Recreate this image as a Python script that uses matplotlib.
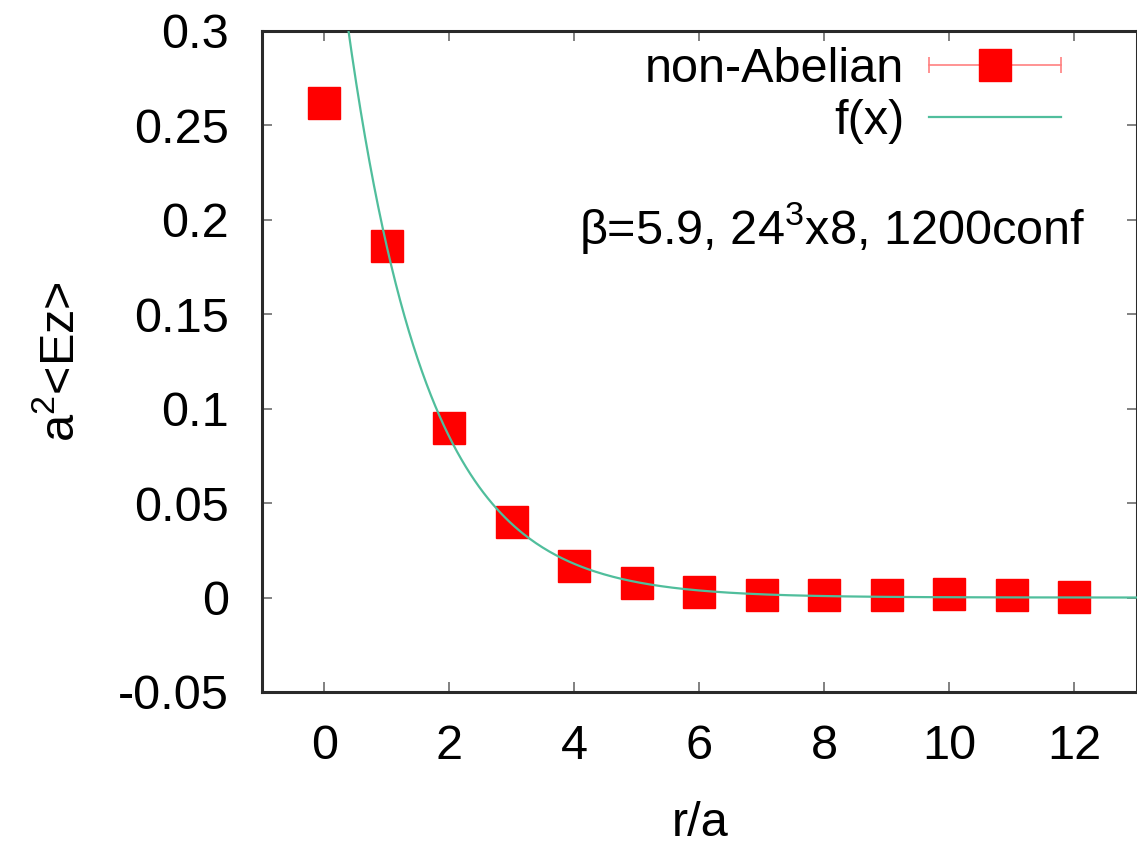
import numpy as np
import matplotlib
matplotlib.use("Agg")
from matplotlib import pyplot as plt
from matplotlib.ticker import FixedLocator
from matplotlib.lines import Line2D
from matplotlib.legend_handler import HandlerLine2D, HandlerTuple

plt.rcParams['font.family'] = ['Liberation Sans', 'DejaVu Sans']
plt.rcParams['mathtext.fontset'] = 'custom'
plt.rcParams['mathtext.rm'] = 'Liberation Sans'
plt.rcParams['mathtext.it'] = 'Liberation Sans'

# lattice data
r = [0, 1, 2, 3, 4, 5, 6, 7, 8, 9, 10, 11, 12]
ez = [0.262, 0.186, 0.090, 0.040, 0.0165, 0.0075, 0.0032, 0.0016, 0.0016,
      0.0016, 0.0019, 0.0016, 0.0002]
ez_err = [0.0010, 0.0009, 0.0008, 0.0007, 0.0006, 0.0006, 0.0006, 0.0006,
          0.0006, 0.0006, 0.0006, 0.0006, 0.0006]

# fit f(x) = A exp(-x / lam)
fit_A = 0.405
fit_lam = 1.28

xticks = [0, 2, 4, 6, 8, 10, 12]
yticks = [-0.05, 0, 0.05, 0.1, 0.15, 0.2, 0.25, 0.3]
ytick_labels = ["-0.05", "0", "0.05", "0.1", "0.15", "0.2", "0.25", "0.3"]

FS = 35
RED = '#ff0000'
ERR = '#ff8080'
GREEN = '#50be9c'

fig = plt.figure(figsize=(11.37, 8.47), dpi=100)
ax = fig.add_axes([0.2304, 0.183, 0.7696, 0.7806])

ax.errorbar(r, ez, yerr=ez_err, fmt='s', color=RED, ms=23.5, mec=RED,
            ecolor=ERR, elinewidth=1.2, capsize=4, capthick=1.2, zorder=2)

xf = np.linspace(-1, 13, 400)
ax.plot(xf, fit_A * np.exp(-xf / fit_lam), color=GREEN, lw=1.6, zorder=3)

ax.set_xlim(-1, 13)
ax.set_ylim(-0.05, 0.3)
ax.xaxis.set_major_locator(FixedLocator(xticks))
ax.set_yticks(yticks)
ax.set_yticklabels(ytick_labels)

ax.tick_params(direction='in', length=7, width=1.3, color='#777777',
               labelsize=FS, top=True, right=True)
ax.tick_params(axis='y', pad=24)
ax.tick_params(axis='x', pad=23)
for s in ax.spines.values():
    s.set_linewidth(2.2)
    s.set_color('#2a2a2a')

ax.set_xlabel('r/a', fontsize=FS)
ax.set_ylabel('a$^{2}$<Ez>', fontsize=FS)
ax.xaxis.set_label_coords(0.501, -0.165)
ax.yaxis.set_label_coords(-0.203, 0.5)

# legend handles in gnuplot style: error bar with caps + square, then the fit line
h_err = Line2D([], [], color=ERR, lw=1.2, marker='|', ms=12, mew=1.2)
h_sq = Line2D([], [], ls='none', marker='s', ms=23.5, color=RED, mec=RED)
h_fit = Line2D([], [], color=GREEN, lw=1.6)
ax.legend([(h_err, h_sq), h_fit], ['non-Abelian', 'f(x)'],
          handler_map={h_err: HandlerLine2D(numpoints=2, marker_pad=0),
                       h_sq: HandlerLine2D(numpoints=1),
                       tuple: HandlerTuple(ndivide=1)},
          loc='upper right', bbox_to_anchor=(0.913, 0.976), borderaxespad=0,
          borderpad=0, frameon=False, fontsize=FS, handlelength=2.72,
          labelspacing=0.15, handletextpad=0.5, markerfirst=False)

ax.text(0.941, 0.702, '\u03b2=5.9, 24$^{3}$x8, 1200conf', transform=ax.transAxes,
        ha='right', va='center', fontsize=FS)

plt.savefig('out.png', dpi=100)
